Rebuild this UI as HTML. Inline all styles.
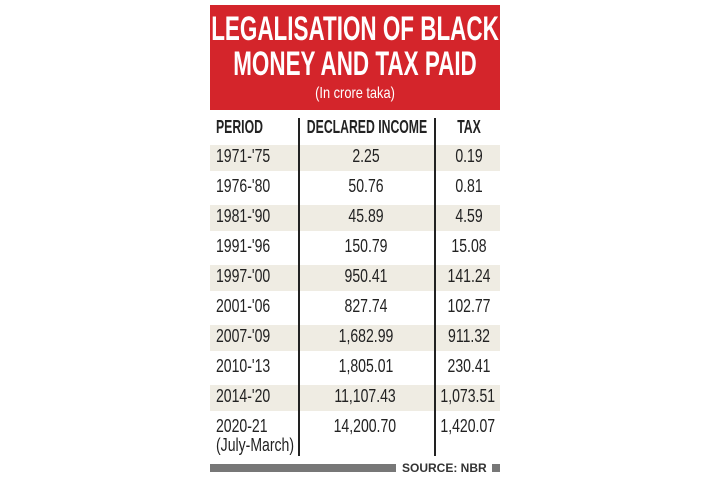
<!DOCTYPE html>
<html><head><meta charset="utf-8"><style>
body{margin:0;background:#fff;width:726px;height:484px;position:relative;overflow:hidden;font-family:"Liberation Sans",sans-serif;color:#222}
.a{position:absolute}
.t{position:absolute;white-space:nowrap;transform-origin:0 0}
.band{position:absolute;left:210px;width:290px;height:26px;background:#efece3}
.cell{position:absolute;font-size:18px;white-space:nowrap;transform:scaleX(.78)}
</style></head><body>
<div class="a" style="left:210px;top:5px;width:290px;height:105px;background:#d4252b"></div>
<div class="a" style="left:105px;top:12px;width:500px;text-align:center;color:#fff;font-weight:bold;font-size:34px;line-height:35px;white-space:nowrap;transform:scaleX(.66);transform-origin:50% 0">LEGALISATION OF BLACK<br>MONEY AND TAX PAID</div>
<div class="a" style="left:155px;top:85px;width:400px;text-align:center;color:#fff;font-size:16px;white-space:nowrap;transform:scaleX(.8);transform-origin:50% 0">(In crore taka)</div>
<div id="tbl"></div>
<div class="a" style="left:298px;top:118px;width:2px;height:338px;background:#222"></div>
<div class="a" style="left:434px;top:118px;width:2px;height:338px;background:#222"></div>
<div class="a" style="left:210px;top:464px;width:186px;height:8px;background:#777"></div>
<div class="t" style="left:402px;top:461px;font-size:12px;font-weight:bold;color:#333">SOURCE: NBR</div>
<div class="a" style="left:492px;top:464px;width:8px;height:8px;background:#777"></div>
<script>
const periods=["1971-'75","1976-'80","1981-'90","1991-'96","1997-'00","2001-'06","2007-'09","2010-'13","2014-'20","2020-21"];
const declared=["2.25","50.76","45.89","150.79","950.41","827.74","1,682.99","1,805.01","11,107.43","14,200.70"];
const tax=["0.19","0.81","4.59","15.08","141.24","102.77","911.32","230.41","1,073.51","1,420.07"];
const tbl=document.getElementById('tbl');
function add(txt,x,y,align,bold,name){
  const d=document.createElement('div');
  d.className='cell';
  
  
  d.textContent=txt;
  d.style.top=y+'px';
  if(bold){d.style.fontWeight='bold';d.style.transform='scaleX(.68)';}
  if(align==='l'){d.style.left=x+'px';d.style.transformOrigin='0 0';}
  else if(align==='r'){d.style.right=(726-x)+'px';d.style.transformOrigin='100% 0';}
  else{d.style.left=(x-100)+'px';d.style.width='200px';d.style.textAlign='center';d.style.transformOrigin='50% 0';}
  tbl.appendChild(d);
}
add('PERIOD',216,117,'l',true,'header-period');
add('DECLARED INCOME',367,117,'c',true,'header-declared');
add('TAX',469,117,'c',true,'header-tax');
periods.forEach((p,i)=>{
  const y=146+i*30;
  if(i%2===0){
    const b=document.createElement('div');
    b.className='band';
    
    
    b.style.top=(y-1)+'px';
    tbl.appendChild(b);
  }
  add(p,216,y,'l',false,'period-cell');
  if(i===periods.length-1){add('(July-March)',216,y+19,'l',false,'period-note');}
  if(i>=8){add(declared[i],396,y,'r',false,'declared-cell');add(tax[i],495,y,'r',false,'tax-cell');}
  else{add(declared[i],366,y,'c',false,'declared-cell');add(tax[i],469,y,'c',false,'tax-cell');}
});
</script>
</body></html>
